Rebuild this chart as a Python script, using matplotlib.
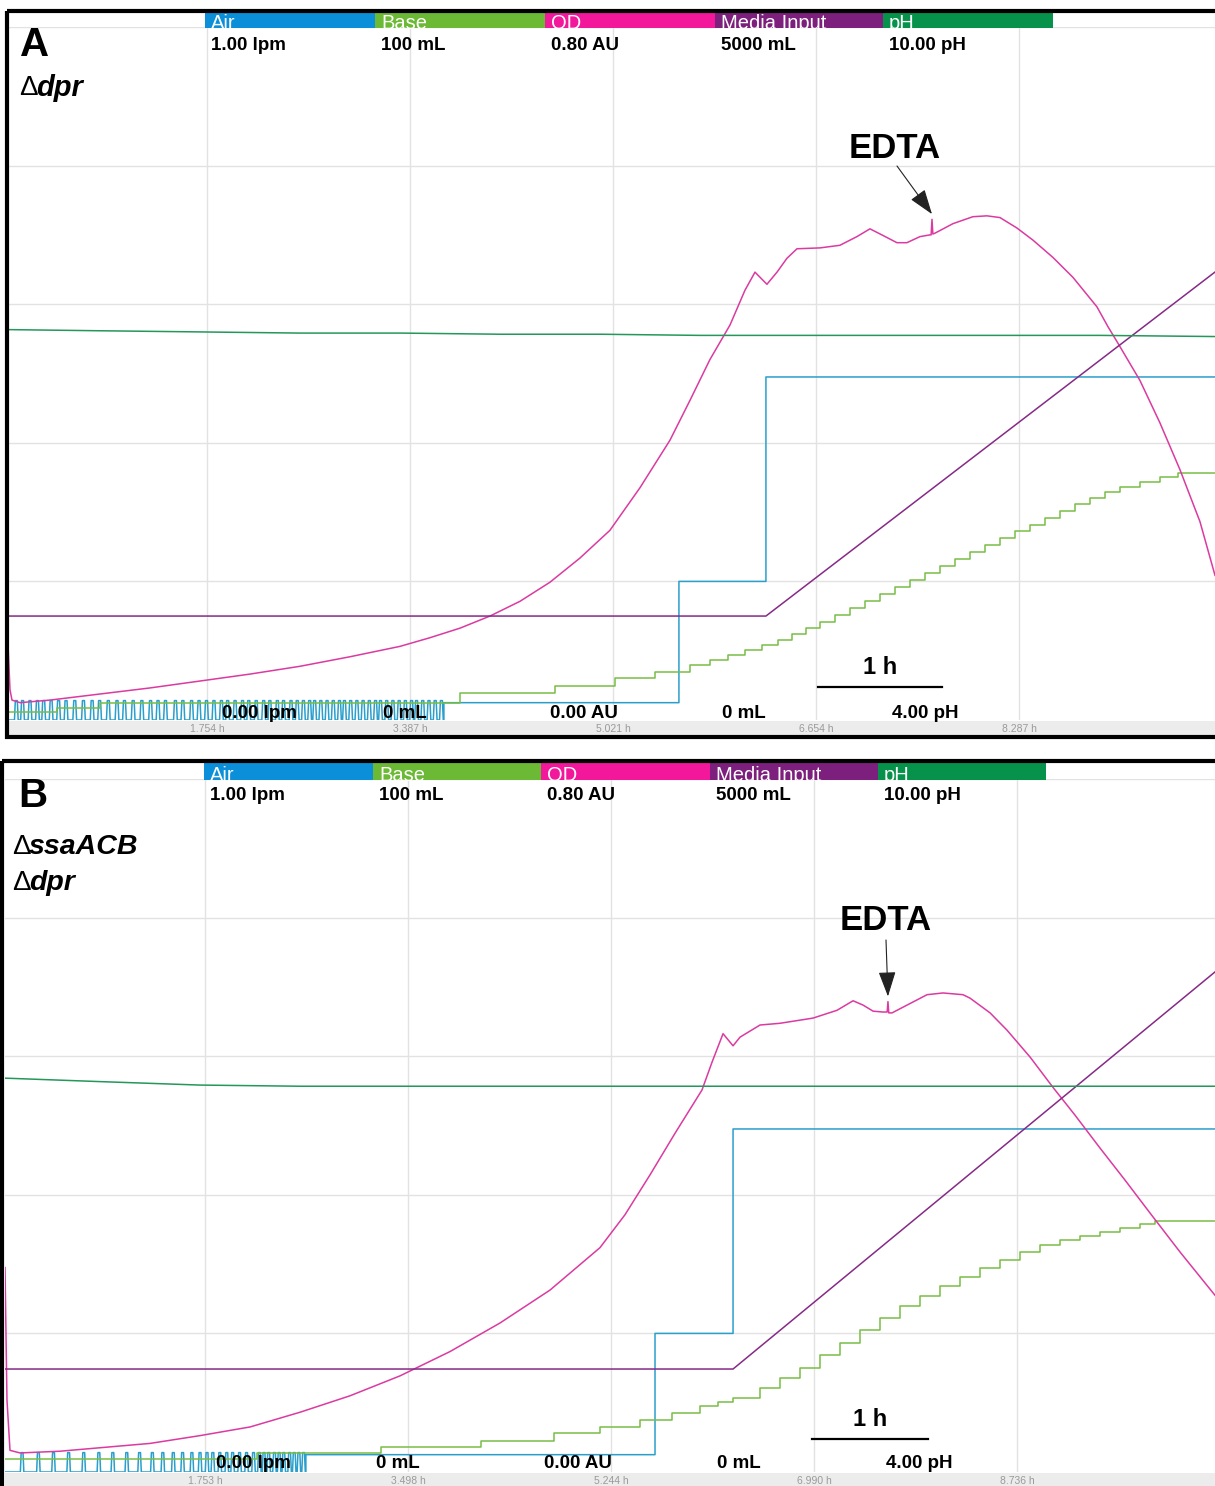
import matplotlib.pyplot as plt
from matplotlib.patches import Rectangle

plt.rcParams['font.family'] = ['Liberation Sans', 'DejaVu Sans']

W, H = 1215, 1486

# full-scale ranges of each recorder channel (bottom, top)
CHANNELS = ["Air", "Base", "OD", "Media Input", "pH"]
RANGES = [(0, 1.0), (0, 100), (0, 0.80), (0, 5000), (4.0, 10.0)]
HEADER_VALUES = ["1.00 lpm", "100 mL", "0.80 AU", "5000 mL", "10.00 pH"]
FOOTER_VALUES = ["0.00 lpm", "0 mL", "0.00 AU", "0 mL", "4.00 pH"]
BAR_COLORS = ["#0b8fd8", "#6bb935", "#f3189b", "#7d1f7d", "#06924a"]
LINE_COLORS = ["#2a9fcc", "#78bd45", "#db3aa0", "#862a86", "#23985a"]

# ---------------- run A : delta-dpr ----------------
a_span = (0.153, 9.864)
a_ticks = [1.754, 3.387, 5.021, 6.654, 8.287]
a_air_pulses = [0.22, 0.27, 0.33, 0.39, 0.44, 0.50, 0.56, 0.62, 0.69, 0.76,
                0.83, 0.89, 0.96, 1.03, 1.09, 1.16, 1.23, 1.30, 1.36, 1.42,
                1.50, 1.56, 1.63, 1.69, 1.75, 1.81, 1.87, 1.92, 1.98, 2.04,
                2.09, 2.15, 2.21, 2.26, 2.32, 2.37, 2.43, 2.48, 2.53, 2.58,
                2.62, 2.67, 2.72, 2.77, 2.82, 2.86, 2.91, 2.96, 3.01, 3.06,
                3.11, 3.15, 3.20, 3.25, 3.30, 3.35, 3.40, 3.44, 3.49, 3.54,
                3.59, 3.64]
a_air_step_t = [3.66, 5.551, 6.251]
a_air_step_v = [0.025, 0.20, 0.495]
a_base_t = [0.153, 0.547, 0.893, 3.789, 4.554, 5.036, 5.358, 5.640, 5.800, 5.945,
            6.082, 6.219, 6.348, 6.460, 6.573, 6.686, 6.806, 6.927, 7.048, 7.168,
            7.289, 7.410, 7.530, 7.651, 7.772, 7.892, 8.013, 8.134, 8.254, 8.375,
            8.496, 8.616, 8.737, 8.858, 8.978, 9.099, 9.260, 9.421, 9.566]
a_base_v = [1.15, 1.73, 2.45, 3.90, 4.91, 6.06, 6.93, 7.94, 8.66, 9.38,
            10.10, 10.82, 11.54, 12.41, 13.27, 14.14, 15.15, 16.16, 17.17, 18.18,
            19.19, 20.20, 21.21, 22.22, 23.23, 24.24, 25.25, 26.26, 27.27, 28.14,
            29.15, 30.16, 31.17, 32.04, 32.90, 33.62, 34.34, 35.06, 35.64]
a_od_t = [0.153, 0.169, 0.185, 0.250, 0.491, 0.893, 1.295, 1.698, 2.100, 2.502,
          2.904, 3.307, 3.548, 3.789, 4.031, 4.272, 4.513, 4.755, 4.996, 5.237,
          5.479, 5.640, 5.800, 5.962, 6.082, 6.163, 6.259, 6.340, 6.420, 6.501,
          6.686, 6.846, 6.983, 7.088, 7.184, 7.305, 7.385, 7.490, 7.570, 7.580,
          7.587, 7.594, 7.611, 7.756, 7.916, 8.029, 8.134, 8.270, 8.399, 8.560,
          8.721, 8.914, 9.003, 9.083, 9.260, 9.421, 9.582, 9.743, 9.864]
a_od_v = [0.087, 0.035, 0.023, 0.020, 0.023, 0.030, 0.037, 0.045, 0.053, 0.062,
          0.073, 0.085, 0.095, 0.106, 0.120, 0.137, 0.159, 0.187, 0.219, 0.268,
          0.323, 0.369, 0.416, 0.456, 0.496, 0.517, 0.503, 0.517, 0.533, 0.544,
          0.545, 0.548, 0.558, 0.567, 0.560, 0.551, 0.551, 0.558, 0.560, 0.560,
          0.578, 0.561, 0.562, 0.573, 0.581, 0.582, 0.580, 0.568, 0.554, 0.534,
          0.511, 0.477, 0.454, 0.435, 0.392, 0.343, 0.289, 0.229, 0.167]
a_media_t = [0.153, 6.251, 9.864]
a_media_v = [750, 750, 3232]
a_ph_t = [0.153, 0.893, 1.698, 2.502, 3.307, 4.111, 4.916, 5.720, 6.525, 7.329,
          8.134, 8.938, 9.864]
a_ph_v = [7.38, 7.37, 7.36, 7.35, 7.35, 7.34, 7.34, 7.33, 7.33, 7.33,
          7.33, 7.33, 7.32]
a_edta = (7.587, 0.578)

# ---------------- run B : delta-ssaACB delta-dpr ----------------
b_span = (0.033, 10.437)
b_ticks = [1.753, 3.498, 5.244, 6.990, 8.736]
b_air_pulses = [0.18, 0.32, 0.45, 0.58, 0.71, 0.84, 0.96, 1.08, 1.19, 1.30,
                1.39, 1.48, 1.56, 1.64, 1.71, 1.77, 1.82, 1.88, 1.94, 1.99,
                2.05, 2.11, 2.17, 2.22, 2.26, 2.30, 2.35, 2.39, 2.43, 2.48,
                2.52, 2.56, 2.60]
b_air_step_t = [2.62, 5.622, 6.293]
b_air_step_v = [0.025, 0.20, 0.495]
b_base_t = [0.033, 2.200, 3.266, 4.126, 4.754, 5.149, 5.493, 5.768, 6.009, 6.164,
            6.293, 6.525, 6.697, 6.869, 7.041, 7.213, 7.385, 7.557, 7.729, 7.901,
            8.073, 8.245, 8.417, 8.589, 8.761, 8.933, 9.105, 9.277, 9.449, 9.621,
            9.792, 9.921]
b_base_v = [1.87, 2.74, 3.61, 4.47, 5.63, 6.49, 7.50, 8.51, 9.52, 10.10,
            10.68, 12.12, 13.56, 15.01, 16.88, 18.61, 20.49, 22.22, 23.96, 25.40,
            26.84, 28.14, 29.44, 30.59, 31.75, 32.76, 33.48, 34.06, 34.63, 35.21,
            35.79, 36.22]
b_od_t = [0.033, 0.050, 0.076, 0.162, 0.506, 0.850, 1.280, 1.710, 2.140, 2.570,
          3.000, 3.430, 3.859, 4.289, 4.719, 5.149, 5.364, 5.579, 5.794, 6.026,
          6.112, 6.207, 6.293, 6.353, 6.525, 6.697, 6.981, 7.187, 7.325, 7.411,
          7.497, 7.582, 7.618, 7.625, 7.632, 7.660, 7.789, 7.961, 8.098, 8.270,
          8.331, 8.503, 8.649, 8.847, 9.044, 9.233, 9.448, 9.663, 9.878, 10.136,
          10.437]
b_od_v = [0.236, 0.083, 0.025, 0.022, 0.024, 0.028, 0.033, 0.042, 0.052, 0.069,
          0.088, 0.111, 0.139, 0.172, 0.210, 0.259, 0.297, 0.343, 0.391, 0.441,
          0.473, 0.506, 0.492, 0.502, 0.516, 0.518, 0.524, 0.533, 0.544, 0.539,
          0.532, 0.531, 0.531, 0.543, 0.530, 0.530, 0.539, 0.551, 0.553, 0.551,
          0.547, 0.530, 0.510, 0.479, 0.444, 0.412, 0.374, 0.337, 0.299, 0.254,
          0.204]
b_media_t = [0.033, 6.293, 10.437]
b_media_v = [743, 743, 3608]
b_ph_t = [0.033, 0.850, 1.710, 2.570, 4.0, 6.0, 8.0, 10.437]
b_ph_v = [7.41, 7.38, 7.35, 7.34, 7.34, 7.34, 7.34, 7.34]
b_edta = (7.625, 0.543)

fig = plt.figure(figsize=(W / 100, H / 100), dpi=100)
back = fig.add_axes([0, 0, 1, 1], zorder=0)
front = fig.add_axes([0, 0, 1, 1], zorder=10)
for cv in (back, front):
    cv.set_xlim(0, W)
    cv.set_ylim(H, 0)
    cv.axis('off')
front.patch.set_visible(False)


def air_trace(span, pulses, step_t, step_v):
    t, v = [span[0]], [0.0]
    for p in pulses:
        t += [p - 0.015, p - 0.008, p + 0.008, p + 0.015]
        v += [0.0, 0.028, 0.028, 0.0]
    for st, sv in zip(step_t, step_v):
        t += [st, st]
        v += [v[-1], sv]
    t.append(span[1])
    v.append(v[-1])
    return t, v


def draw_run(left, top, bottom, span, ticks, air, base, od, media, ph,
             edta, edta_text, bar_start):
    ax = fig.add_axes([left / W, 1 - bottom / H, (W - left) / W, (bottom - top) / H],
                      zorder=2)
    ax.patch.set_visible(False)
    ax.set_xlim(span)
    ax.set_ylim(RANGES[0])
    ax.set_yticks([0.2, 0.4, 0.6, 0.8, 1.0])
    ax.set_xticks(ticks)
    ax.set_xticklabels([f"{t:.3f} h" for t in ticks])
    ax.tick_params(length=0, labelleft=False, labelsize=7.5,
                   labelcolor='#9a9a9a', pad=3)
    ax.grid(True, color='#e2e2e2', lw=1.0)
    for s in ax.spines.values():
        s.set_visible(False)

    twins = [ax]
    for rng in RANGES[1:]:
        tw = ax.twinx()
        tw.set_ylim(rng)
        tw.axis('off')
        twins.append(tw)

    lw = 1.1
    twins[0].plot(*air, color=LINE_COLORS[0], lw=lw)
    bt, bv = list(base[0]) + [span[1]], list(base[1]) + [base[1][-1]]
    twins[1].plot(bt, bv, color=LINE_COLORS[1], lw=lw, drawstyle='steps-post')
    twins[3].plot(*media, color=LINE_COLORS[3], lw=lw)
    twins[4].plot(*ph, color=LINE_COLORS[4], lw=lw)
    twins[2].plot(*od, color=LINE_COLORS[2], lw=lw)

    # EDTA addition marker
    twins[2].annotate('', xy=(edta[0], edta[1] + 0.006), xytext=edta_text,
                      textcoords=front.transData,
                      arrowprops=dict(arrowstyle='-|>,head_length=1.3,head_width=0.45',
                                      mutation_scale=12, lw=0.8, color='#222222',
                                      shrinkA=0, shrinkB=0))

    # 1 h scale bar
    ax.plot([bar_start, bar_start + 1.0], [0.048, 0.048], color='black', lw=1.6)
    ax.text(bar_start + 0.5, 0.076, "1 h", ha='center', va='center',
            fontsize=17, fontweight='bold')
    return ax


def header(edges, y_bar, y_val, y_foot, foot_x):
    for i, name in enumerate(CHANNELS):
        x0, x1 = edges[i], edges[i + 1]
        front.add_patch(Rectangle((x0, y_bar[0]), x1 - x0, y_bar[1] - y_bar[0],
                                  color=BAR_COLORS[i], lw=0))
        front.text(x0 + 6, y_bar[1] + 1, name, color='white', fontsize=14.5,
                   va='baseline', ha='left')
        front.text(x0 + 6, y_val, HEADER_VALUES[i], fontsize=13.5,
                   fontweight='bold', va='center', ha='left')
        front.text(foot_x[i], y_foot, FOOTER_VALUES[i], fontsize=13.5,
                   fontweight='bold', va='center', ha='left')


# panel A
back.add_patch(Rectangle((8, 721), W, 15, color='#ececec', lw=0))
draw_run(8, 27, 720, a_span, a_ticks,
         air_trace(a_span, a_air_pulses, a_air_step_t, a_air_step_v),
         (a_base_t, a_base_v), (a_od_t, a_od_v), (a_media_t, a_media_v),
         (a_ph_t, a_ph_v), a_edta, (897, 166), 6.670)
header([205, 375, 545, 715, 883, 1053], (13, 28), 45, 714,
       [222, 383, 550, 722, 892])
front.add_patch(Rectangle((7, 11), 1240, 726, fill=False, lw=3.0, ec='black'))
front.text(20, 45, "A", fontsize=29, fontweight='bold', va='center', ha='left')
front.text(19, 88, "\u0394", fontsize=20, va='center', ha='left')
front.text(36, 88, "dpr", fontsize=21, fontweight='bold', style='italic',
           va='center', ha='left')
front.text(895, 149, "EDTA", fontsize=25, fontweight='bold', ha='center', va='center')

# panel B
back.add_patch(Rectangle((5, 1473), W, 20, color='#ececec', lw=0))
draw_run(5, 779, 1472, b_span, b_ticks,
         air_trace(b_span, b_air_pulses, b_air_step_t, b_air_step_v),
         (b_base_t, b_base_v), (b_od_t, b_od_v), (b_media_t, b_media_v),
         (b_ph_t, b_ph_v), b_edta, (886, 940), 6.972)
header([204, 373, 541, 710, 878, 1046], (763, 780), 796, 1464,
       [216, 376, 544, 717, 886])
front.add_patch(Rectangle((2, 761), 1240, 760, fill=False, lw=3.0, ec='black'))
front.text(18, 796, "B", fontsize=29, fontweight='bold', va='center', ha='left')
front.text(12, 847, "\u0394", fontsize=20, va='center', ha='left')
front.text(29, 847, "ssaACB", fontsize=20.5, fontweight='bold', style='italic',
           va='center', ha='left')
front.text(12, 883, "\u0394", fontsize=20, va='center', ha='left')
front.text(29, 883, "dpr", fontsize=20.5, fontweight='bold', style='italic',
           va='center', ha='left')
front.text(886, 921, "EDTA", fontsize=25, fontweight='bold', ha='center', va='center')

fig.savefig("out.png", dpi=100)
